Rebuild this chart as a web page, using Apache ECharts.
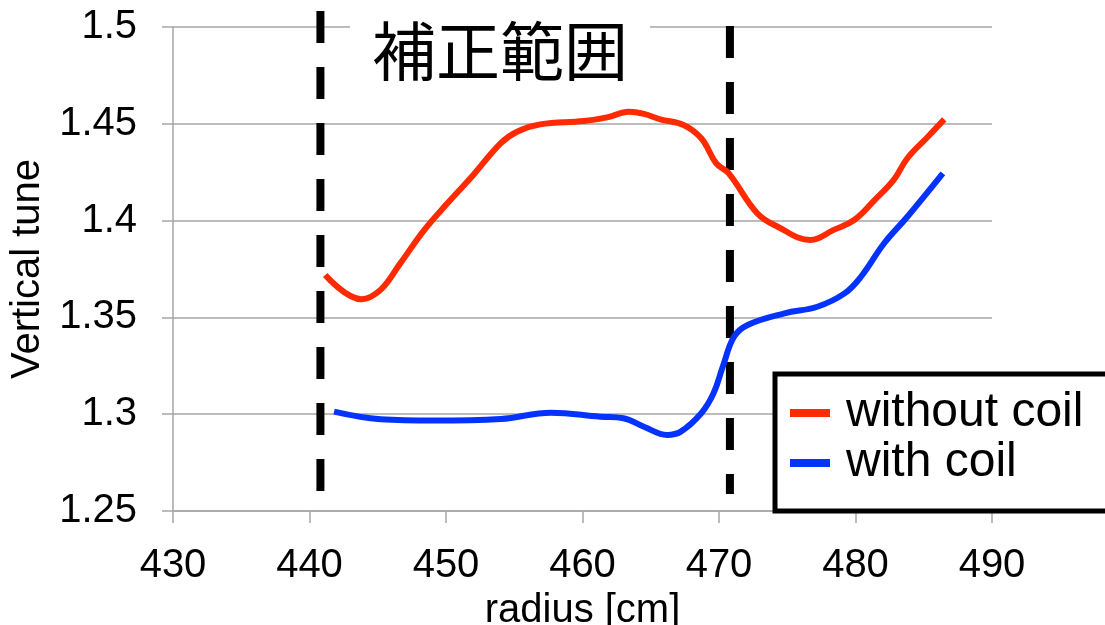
<!DOCTYPE html>
<html>
<head>
<meta charset="utf-8">
<script src="https://cdn.jsdelivr.net/npm/echarts@6/dist/echarts.min.js"></script>
<style>
html,body{margin:0;padding:0;background:#fff;}
#chart{width:1105px;height:625px;}
</style>
</head>
<body>
<div id="chart"></div>
<script>
// ---- data ----
const xTicks = [430, 440, 450, 460, 470, 480, 490];
const yTicks = [1.25, 1.3, 1.35, 1.4, 1.45, 1.5];

const radiusWithout = [441.15, 443.8, 445.2, 446.65, 448.4, 450.1, 452.0, 454.0, 455.2, 456.9, 460.1, 461.8, 463.4, 464.5, 465.7, 467.4, 468.7, 469.8, 470.7, 472.8, 474.3, 476.7, 478.4, 479.9, 481.4, 482.8, 483.8, 485.3, 486.5];
const tuneWithout   = [1.3719, 1.3594, 1.3642, 1.3779, 1.3951, 1.4089, 1.4236, 1.4399, 1.4459, 1.4497, 1.4514, 1.4533, 1.4562, 1.4551, 1.4523, 1.4494, 1.4425, 1.4296, 1.4245, 1.4038, 1.3968, 1.3900, 1.3952, 1.4003, 1.4106, 1.4210, 1.4322, 1.4433, 1.4523];

const radiusWith = [441.8, 445.2, 449.1, 454.0, 457.7, 461.3, 463.0, 464.5, 466.2, 467.2, 468.7, 469.6, 470.3, 471.1, 472.1, 474.8, 477.2, 479.2, 480.4, 482.1, 483.8, 486.4];
const tuneWith   = [1.3013, 1.2974, 1.2967, 1.2975, 1.3008, 1.2987, 1.2979, 1.2935, 1.2893, 1.2910, 1.3005, 1.3108, 1.3250, 1.3400, 1.3461, 1.3521, 1.3555, 1.3624, 1.3710, 1.3883, 1.4020, 1.4244];

// correction range boundaries (dashed lines): x, top y, bottom y
const rangeX      = [440.8, 470.8];
const rangeTop    = [1.5082, 1.5005];
const rangeBottom = [1.2603, 1.2588];

const seriesNames = ['without coil', 'with coil'];
const titleText = '補正範囲';
const xName = 'radius [cm]';
const yName = 'Vertical tune';

// ---- chart ----
const zip = (xs, ys) => xs.map((x, i) => [x, ys[i]]);
const chart = echarts.init(document.getElementById('chart'));
const latin = '"Liberation Sans", Arial, sans-serif';
const gray = '#a6a6a6';

const dashSeries = rangeX.map((x, i) => ({
  type: 'line',
  name: 'range' + i,
  data: [[x, rangeTop[i]], [x, rangeBottom[i]]],
  symbol: 'none',
  clip: false,
  silent: true,
  z: 1,
  lineStyle: { color: '#000', width: 8, type: [32, 24], cap: 'butt' }
}));

chart.setOption({
  animation: false,
  backgroundColor: '#fff',
  title: {
    text: titleText,
    left: 350,
    top: 13,
    padding: [6, 22, 6, 22],
    backgroundColor: '#fff',
    textStyle: { fontFamily: '"Noto Sans CJK JP", sans-serif', fontSize: 64, fontWeight: 'normal', color: '#000' }
  },
  grid: { left: 173, right: 113, top: 27, bottom: 114, containLabel: false, outerBoundsMode: 'none' },
  legend: {
    data: seriesNames,
    orient: 'vertical',
    left: 775,
    top: 374,
    padding: [15, 60, 24, 15],
    itemGap: 2,
    itemWidth: 40,
    itemHeight: 8,
    icon: 'rect',
    borderColor: '#000',
    borderWidth: 5,
    backgroundColor: '#fff',
    textStyle: { fontFamily: latin, fontSize: 48, color: '#000', padding: [0, 0, 0, 11] }
  },
  xAxis: {
    type: 'value',
    min: 430, max: 490, interval: 10,
    name: xName,
    nameLocation: 'middle',
    nameGap: 76,
    nameTextStyle: { fontFamily: latin, fontSize: 40, color: '#000' },
    axisLine: { show: true, lineStyle: { color: gray, width: 1.5 } },
    axisTick: { show: true, length: 12, lineStyle: { color: gray, width: 1.5 } },
    axisLabel: { fontFamily: latin, fontSize: 40, color: '#000', margin: 35,
      formatter: v => xTicks.includes(v) ? String(v) : '' },
    splitLine: { show: false }
  },
  yAxis: {
    type: 'value',
    min: 1.25, max: 1.5, interval: 0.05,
    name: yName,
    nameLocation: 'middle',
    nameGap: 112,
    nameRotate: 90,
    nameTextStyle: { fontFamily: latin, fontSize: 40, color: '#000' },
    axisLine: { show: true, lineStyle: { color: gray, width: 1.5 } },
    axisTick: { show: true, length: 11, lineStyle: { color: gray, width: 1.5 } },
    axisLabel: { fontFamily: latin, fontSize: 40, color: '#000', margin: 36,
      formatter: v => { const t = yTicks.find(k => Math.abs(k - v) < 1e-9); return t === undefined ? '' : String(t); } },
    splitLine: { show: true, lineStyle: { color: gray, width: 1.5 } }
  },
  series: [
    ...dashSeries,
    {
      type: 'line', name: seriesNames[0],
      data: zip(radiusWithout, tuneWithout),
      smooth: 0.4, symbol: 'none', z: 3,
      itemStyle: { color: '#ff2a00' },
      lineStyle: { color: '#ff2a00', width: 6 }
    },
    {
      type: 'line', name: seriesNames[1],
      data: zip(radiusWith, tuneWith),
      smooth: 0.4, symbol: 'none', z: 3,
      itemStyle: { color: '#0433ff' },
      lineStyle: { color: '#0433ff', width: 6 }
    }
  ]
});
</script>
</body>
</html>
